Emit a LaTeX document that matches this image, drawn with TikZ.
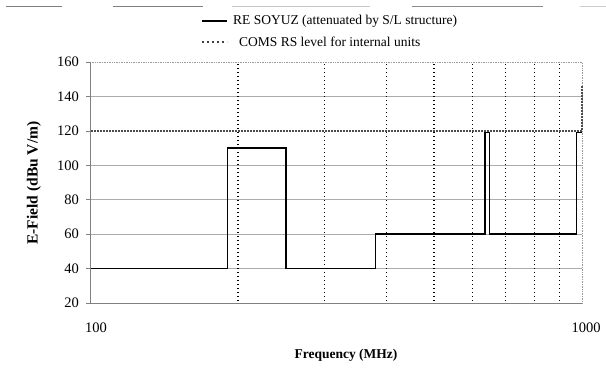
\documentclass[tikz,border=0pt]{standalone}
\usepackage{fontspec}
\setmainfont{Liberation Serif}
\begin{document}
\begin{tikzpicture}[x=1pt,y=-1pt,
  grid/.style={gray!65,line width=0.7pt},
  frame/.style={gray!80,line width=0.7pt,densely dotted},
  vgrid/.style={black,line width=1.3pt,dash pattern=on 1.3pt off 2.7pt},
  limit/.style={black!70,line width=1.6pt,dash pattern=on 2pt off 1pt},
  leglimit/.style={black!75,line width=2pt,dash pattern=on 2.4pt off 2.6pt},
  curve/.style={black,line width=1.7pt},
  artifact/.style={line width=0.8pt},
  ticklab/.style={font=\fontsize{14.5}{15}\selectfont,inner sep=0pt},
  axlab/.style={font=\fontsize{13.5}{14}\selectfont\bfseries,inner sep=0pt},
  leglab/.style={font=\fontsize{13.5}{14}\selectfont,inner sep=0pt,anchor=west}]
\useasboundingbox (0,0) rectangle (606,376);
% top artifacts
\draw[artifact,gray] (6,6.5) -- (62,6.5);
\draw[artifact,gray] (113,6.5) -- (203,6.5);
\draw[artifact,gray!45] (232,6.5) -- (370,6.5);
\draw[artifact,gray!90] (412,6.5) -- (543,6.5);
\draw[artifact,gray!40] (580,6.5) -- (606,6.5);
% horizontal grid
\foreach \py in {96.4,165.3,199.7,234.1,268.6} {
  \draw[grid] (90,\py) -- (582,\py);
}
% frame
\draw[frame] (90,62) -- (582,62) -- (582,303);
\draw[gray,line width=0.7pt] (90,62) -- (90,303) -- (582,303);
% ticks and labels
\foreach \v/\py in {160/62,140/96.4,120/130.9,100/165.3,80/199.7,60/234.1,40/268.6,20/303} {
  \draw[gray,line width=0.7pt] (86,\py) -- (90,\py);
  \node[ticklab,anchor=east] (t\v) at (79,\py) {\v};
}
% vertical dotted grid
\foreach \x in {238.1,324.7,386.2,433.9,472.8,505.8,534.3,559.5} {
  \draw[vgrid] (\x,64) -- (\x,301);
}
% limit line
\coordinate (l0) at (91,130.9);
\coordinate (l1) at (582,130.9);
\coordinate (l2) at (582,85);
\draw[limit] (l0) -- (l1) -- (l2);
% curve
\coordinate (c0) at (91,268.6);
\coordinate (c1) at (227.5,268.6);
\coordinate (c2) at (227.5,148.1);
\coordinate (c3) at (286,148.1);
\coordinate (c4) at (286,268.6);
\coordinate (c5) at (375.5,268.6);
\coordinate (c6) at (375.5,234.1);
\coordinate (c7) at (485,234.1);
\coordinate (c8) at (485,132.5);
\coordinate (c9) at (489.5,132.5);
\coordinate (c10) at (489.5,234.1);
\coordinate (c11) at (576.5,234.1);
\coordinate (c12) at (576.5,132.5);
\coordinate (c13) at (582,132.5);
\draw[curve] (c0) -- (c1) -- (c2) -- (c3) -- (c4) -- (c5) -- (c6) -- (c7) -- (c8) -- (c9) -- (c10) -- (c11) -- (c12) -- (c13);
% x tick labels
\node[ticklab] (x100) at (96,328) {100};
\node[ticklab] (x1000) at (586,328) {1000};
% axis labels
\node[axlab] (xl) at (346,355) {Frequency (MHz)};
\node[axlab,font=\fontsize{15.5}{16}\selectfont\bfseries,rotate=90] (yl) at (34,183) {E-Field (dBu V/m)};
% legend
\coordinate (la) at (202,21);
\coordinate (lb) at (227,21);
\draw[curve,line width=1.5pt] (la) -- (lb);
\node[leglab] (leg1) at (233,21) {RE SOYUZ (attenuated by S/L structure)};
\coordinate (lc) at (202,42);
\coordinate (ld) at (227,42);
\draw[leglimit] (lc) -- (ld);
\node[leglab] (leg2) at (239,42) {COMS RS level for internal units};
\end{tikzpicture}
\end{document}
